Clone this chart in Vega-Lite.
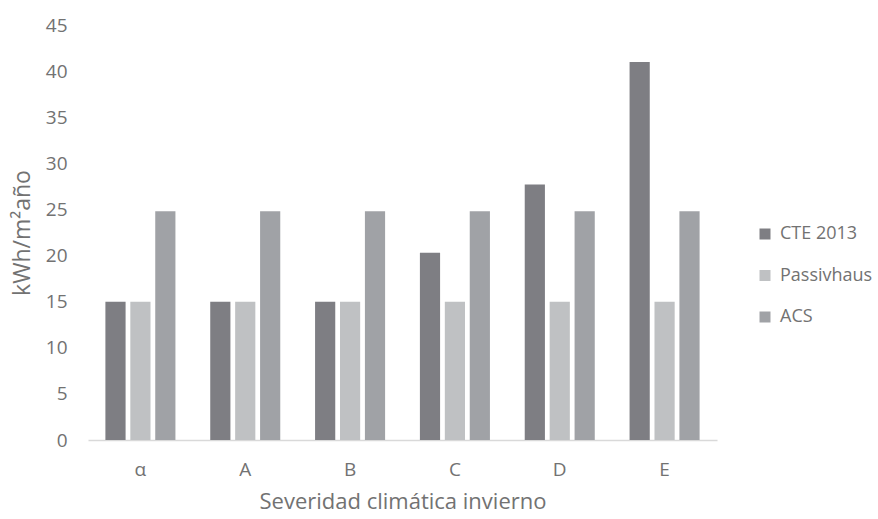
{
  "$schema": "https://vega.github.io/schema/vega-lite/v6.json",
  "autosize": {"type": "none"},
  "width": 629,
  "height": 415,
  "padding": {"left": 88, "top": 25, "right": 161, "bottom": 79},
  "background": "white",
  "config": {
    "view": {"stroke": null},
    "font": "Open Sans",
    "axis": {"labelFont": "Open Sans", "titleFont": "Open Sans", "labelColor": "#727272", "titleColor": "#727272", "titleFontWeight": "normal"},
    "legend": {"labelFont": "Open Sans", "labelColor": "#727272"}
  },
  "data": {
    "values": [
      {"zona": "α", "serie": "CTE 2013", "valor": 15},
      {"zona": "α", "serie": "Passivhaus", "valor": 15},
      {"zona": "α", "serie": "ACS", "valor": 24.8},
      {"zona": "A", "serie": "CTE 2013", "valor": 15},
      {"zona": "A", "serie": "Passivhaus", "valor": 15},
      {"zona": "A", "serie": "ACS", "valor": 24.8},
      {"zona": "B", "serie": "CTE 2013", "valor": 15},
      {"zona": "B", "serie": "Passivhaus", "valor": 15},
      {"zona": "B", "serie": "ACS", "valor": 24.8},
      {"zona": "C", "serie": "CTE 2013", "valor": 20.3},
      {"zona": "C", "serie": "Passivhaus", "valor": 15},
      {"zona": "C", "serie": "ACS", "valor": 24.8},
      {"zona": "D", "serie": "CTE 2013", "valor": 27.7},
      {"zona": "D", "serie": "Passivhaus", "valor": 15},
      {"zona": "D", "serie": "ACS", "valor": 24.8},
      {"zona": "E", "serie": "CTE 2013", "valor": 41},
      {"zona": "E", "serie": "Passivhaus", "valor": 15},
      {"zona": "E", "serie": "ACS", "valor": 24.8}
    ]
  },
  "mark": {"type": "bar"},
  "encoding": {
    "x": {
      "field": "zona", "type": "nominal", "sort": ["α", "A", "B", "C", "D", "E"],
      "scale": {"paddingInner": 0.332, "paddingOuter": 0.166},
      "axis": {
        "title": "Severidad climática invierno", "titleFontSize": 22, "titlePadding": 12,
        "labelAngle": 0, "labelFontSize": 19, "labelPadding": 20,
        "ticks": false, "domainColor": "#d9d9d9", "domainWidth": 1.5, "grid": false
      }
    },
    "xOffset": {
      "field": "serie", "type": "nominal", "sort": ["CTE 2013", "Passivhaus", "ACS"],
      "scale": {"paddingInner": 0.19, "paddingOuter": 0}
    },
    "y": {
      "field": "valor", "type": "quantitative",
      "scale": {"domain": [0, 45]},
      "axis": {
        "title": "kWh/m²año", "titleFontSize": 23, "titlePadding": 11,
        "values": [0, 5, 10, 15, 20, 25, 30, 35, 40, 45],
        "labelFontSize": 19, "labelPadding": 21, "ticks": false, "domain": false, "grid": false
      }
    },
    "color": {
      "field": "serie", "type": "nominal", "sort": ["CTE 2013", "Passivhaus", "ACS"],
      "scale": {"domain": ["CTE 2013", "Passivhaus", "ACS"], "range": ["#7e7e83", "#bfc1c3", "#a0a2a6"]},
      "legend": {
        "title": null, "orient": "none", "legendX": 668, "legendY": 200,
        "symbolType": "square", "symbolSize": 121, "symbolStrokeWidth": 0,
        "labelFontSize": 18, "rowPadding": 23.5, "labelOffset": 6, "labelLimit": 200
      }
    }
  }
}
